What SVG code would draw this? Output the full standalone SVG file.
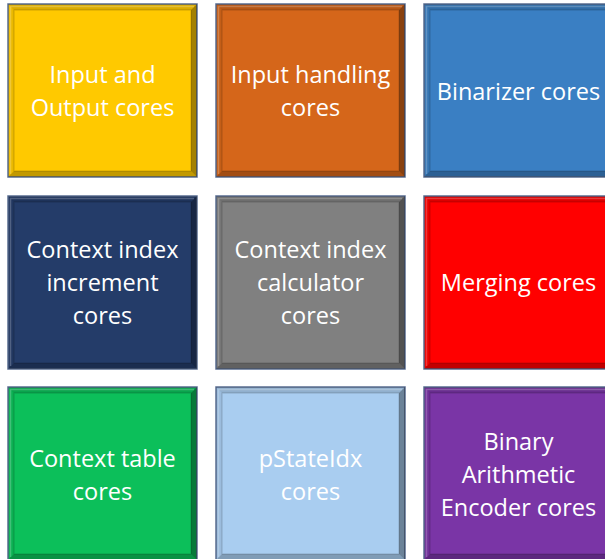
<svg xmlns="http://www.w3.org/2000/svg" width="605" height="559" viewBox="0 0 605 559">
  <defs>
    <style>
      .frame { stroke: #5a6d91; stroke-width: 1.5; }
      .bt { fill: #000; fill-opacity: 0.14; }
      .bl { fill: #000; fill-opacity: 0.08; }
      .br { fill: #000; fill-opacity: 0.36; }
      .bb { fill: #000; fill-opacity: 0.24; }
      .inner { fill: none; stroke: #000; stroke-opacity: 0.18; stroke-width: 1; }
      .hl { fill: none; stroke: #fff; stroke-opacity: 0.22; stroke-width: 1.5; }
      .label { fill: #ffffff; font-family: "Open Sans", "Noto Sans", sans-serif; font-size: 23.5px; text-anchor: middle; }
    </style>
    <!-- bevel edges for a 189 x 173 tile -->
    <g id="bevel">
      <polygon class="bt" points="0,0 189,0 183,6 6,6"/>
      <polygon class="bl" points="0,0 6,6 6,167 0,173"/>
      <polygon class="br" points="189,0 189,173 183,167 183,6"/>
      <polygon class="bb" points="0,173 189,173 183,167 6,167"/>
      <polyline class="hl" points="2.5,170 2.5,2.5 186,2.5"/>
      <rect class="inner" x="6" y="6" width="177" height="161"/>
    </g>
  </defs>
  <rect width="605" height="559" fill="#ffffff"/>

  <!-- row 1 -->
  <g id="io-cores" transform="translate(8,4)">
    <rect class="frame" width="189" height="173" fill="#ffc900"/>
    <use href="#bevel"/>
    <text class="label" x="94.5" y="79">Input and</text>
    <text class="label" x="94.5" y="112">Output cores</text>
  </g>
  <g id="input-handling" transform="translate(216,4)">
    <rect class="frame" width="189" height="173" fill="#d5661a"/>
    <use href="#bevel"/>
    <text class="label" x="94.5" y="79">Input handling</text>
    <text class="label" x="94.5" y="112">cores</text>
  </g>
  <g id="binarizer" transform="translate(424,4)">
    <rect class="frame" width="189" height="173" fill="#3a7fc3"/>
    <use href="#bevel"/>
    <text class="label" x="94.5" y="95.5">Binarizer cores</text>
  </g>

  <!-- row 2 -->
  <g id="ctx-increment" transform="translate(8,196)">
    <rect class="frame" width="189" height="173" fill="#243c69"/>
    <use href="#bevel"/>
    <text class="label" x="94.5" y="62">Context index</text>
    <text class="label" x="94.5" y="95">increment</text>
    <text class="label" x="94.5" y="128">cores</text>
  </g>
  <g id="ctx-calculator" transform="translate(216,196)">
    <rect class="frame" width="189" height="173" fill="#808080"/>
    <use href="#bevel"/>
    <text class="label" x="94.5" y="62">Context index</text>
    <text class="label" x="94.5" y="95">calculator</text>
    <text class="label" x="94.5" y="128">cores</text>
  </g>
  <g id="merging" transform="translate(424,196)">
    <rect class="frame" width="189" height="173" fill="#ff0000"/>
    <use href="#bevel"/>
    <text class="label" x="94.5" y="95">Merging cores</text>
  </g>

  <!-- row 3 -->
  <g id="ctx-table" transform="translate(8,387)">
    <rect class="frame" width="189" height="173" fill="#0cbf5a"/>
    <use href="#bevel"/>
    <text class="label" x="94.5" y="80">Context table</text>
    <text class="label" x="94.5" y="113">cores</text>
  </g>
  <g id="pstateidx" transform="translate(216,387)">
    <rect class="frame" width="189" height="173" fill="#a9cdf0"/>
    <use href="#bevel"/>
    <text class="label" x="94.5" y="80">pStateIdx</text>
    <text class="label" x="94.5" y="113">cores</text>
  </g>
  <g id="bae" transform="translate(424,387)">
    <rect class="frame" width="189" height="173" fill="#7a35a6"/>
    <use href="#bevel"/>
    <text class="label" x="94.5" y="63">Binary</text>
    <text class="label" x="94.5" y="96">Arithmetic</text>
    <text class="label" x="94.5" y="129">Encoder cores</text>
  </g>

  <!-- no connectors in this layout -->
  <g id="connectors"/>
</svg>
